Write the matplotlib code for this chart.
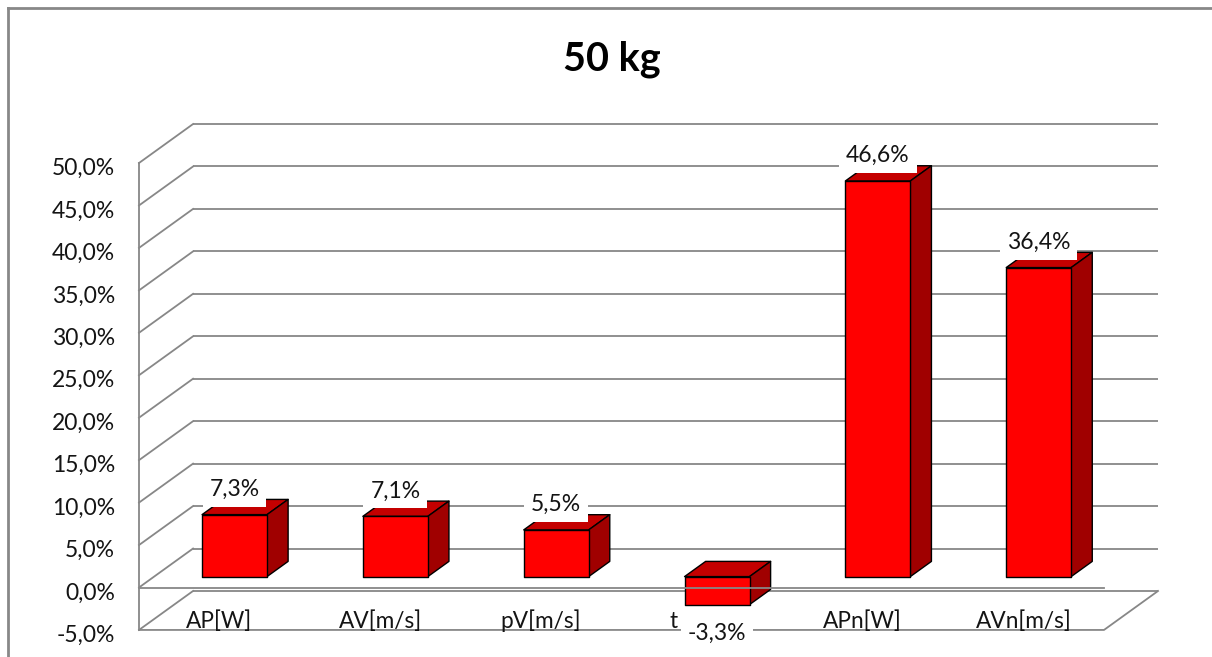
import matplotlib
matplotlib.use("Agg")
import matplotlib.pyplot as plt
from matplotlib.patches import Polygon
from matplotlib.lines import Line2D
from matplotlib.transforms import offset_copy

# ---- data -------------------------------------------------------------
categories = ["AP[W]", "AV[m/s]", "pV[m/s]", "t", "APn[W]", "AVn[m/s]"]
values = [7.3, 7.1, 5.5, -3.3, 46.6, 36.4]
value_labels = ["7,3%", "7,1%", "5,5%", "-3,3%", "46,6%", "36,4%"]
y_ticks = [-5, 0, 5, 10, 15, 20, 25, 30, 35, 40, 45, 50]
y_tick_labels = ["-5,0%", "0,0%", "5,0%", "10,0%", "15,0%", "20,0%", "25,0%",
                 "30,0%", "35,0%", "40,0%", "45,0%", "50,0%"]
title = "50 kg"

# ---- style ------------------------------------------------------------
FONT = "Lato"
TEXT = "#141414"
GRID = "#878787"
FRONT = "#FF0000"
TOP = "#C40000"
SIDE = "#A00000"

# oblique projection: depth d in [0, 1] shifts a point right and up
DX = 0.336   # category units per unit depth
DY = 4.59    # percent units per unit depth
BAR_W = 0.404
D0, D1 = 0.28, 0.67


def proj(x, y, d):
    return (x + DX * d, y + DY * d)


fig = plt.figure(figsize=(12.12, 6.57), dpi=100)
ax = fig.add_axes([0, 0, 1, 1])
ax.set_xlim(-0.8643, 6.6716)
ax.set_ylim(-8.186, 69.20)
ax.axis("off")

n = len(categories)
ymin, ymax = y_ticks[0], y_ticks[-1]
lw_grid = 1.3

# back wall gridlines and side wall diagonals
for t in y_ticks:
    (bx0, by0), (bx1, by1) = proj(0, t, 1), proj(n, t, 1)
    ax.plot([bx0, bx1], [by0, by1], color=GRID, lw=lw_grid, zorder=1,
            solid_capstyle="butt")
    (fx, fy) = proj(0, t, 0)
    ax.plot([fx, bx0], [fy, by0], color=GRID, lw=lw_grid, zorder=1)

# front value axis line
(ax0, ay0), (ax1, ay1) = proj(0, ymin, 0), proj(0, ymax, 0)
ax.plot([ax0, ax1], [ay0, ay1], color=GRID, lw=lw_grid, zorder=1)

# floor outline
pts = [proj(0, ymin, 0), proj(n, ymin, 0), proj(n, ymin, 1)]
ax.plot([p[0] for p in pts], [p[1] for p in pts], color=GRID, lw=lw_grid,
        zorder=1)

# bars
for i, v in enumerate(values):
    x0 = i + 0.5 - BAR_W / 2
    x1 = i + 0.5 + BAR_W / 2
    lo, hi = min(0, v), max(0, v)
    front = [proj(x0, lo, D0), proj(x1, lo, D0), proj(x1, hi, D0), proj(x0, hi, D0)]
    top = [proj(x0, hi, D0), proj(x1, hi, D0), proj(x1, hi, D1), proj(x0, hi, D1)]
    side = [proj(x1, lo, D0), proj(x1, lo, D1), proj(x1, hi, D1), proj(x1, hi, D0)]
    for poly, col in ((top, TOP), (side, SIDE), (front, FRONT)):
        ax.add_patch(Polygon(poly, closed=True, facecolor=col, edgecolor="black",
                             lw=1.0, joinstyle="round", zorder=3))

# category axis line at zero on the front plane
(zx0, zy0), (zx1, zy1) = proj(0, 0, 0), proj(n, 0, 0)
ax.plot([zx0, zx1], [zy0, zy1], color=GRID, lw=lw_grid, zorder=4)

# value-axis tick labels
tick_tr = offset_copy(ax.transData, fig=fig, x=-24, y=-12, units="dots")
for t, lab in zip(y_ticks, y_tick_labels):
    px, py = proj(0, t, 0)
    ax.text(px, py, lab, transform=tick_tr, ha="right", va="baseline",
            fontsize=16.5, family=FONT, color=TEXT, zorder=5)

# category labels
cat_shift = {"t": -28}
for i, c in enumerate(categories):
    px, py = proj(i + 0.5, ymin, 0)
    tr = offset_copy(ax.transData, fig=fig, x=cat_shift.get(c, 0), y=2,
                     units="dots")
    ax.text(px, py, c, transform=tr, ha="center", va="baseline",
            fontsize=16.3, family=FONT, color=TEXT, zorder=5)

# value labels on white boxes
for i, (v, lab) in enumerate(zip(values, value_labels)):
    xc = i + 0.5
    if v >= 0:
        px, _ = proj(xc, v, D0)
        _, py = proj(xc, v, D1)
        tr = offset_copy(ax.transData, fig=fig, x=0, y=10, units="dots")
    else:
        px, py = proj(xc, v, D0)
        tr = offset_copy(ax.transData, fig=fig, x=0, y=-29, units="dots")
    ax.text(px, py, lab, transform=tr, ha="center", va="center",
            fontsize=16.5, family=FONT, color=TEXT, zorder=6,
            bbox=dict(boxstyle="square,pad=0.3", fc="white", ec="none"))

# title
fig.text(612 / 1212, 1 - 70 / 657, title, ha="center", va="baseline",
         fontsize=28.5, fontweight="bold", family=FONT, color="black")

# chart-area border (left and top edges)
fig.add_artist(Line2D([8 / 1212, 8 / 1212], [0, 1 - 8 / 657],
                      transform=fig.transFigure, color="#888888", lw=2))
fig.add_artist(Line2D([8 / 1212, 1], [1 - 8 / 657, 1 - 8 / 657],
                      transform=fig.transFigure, color="#888888", lw=2))

fig.savefig("out.png", dpi=100)
